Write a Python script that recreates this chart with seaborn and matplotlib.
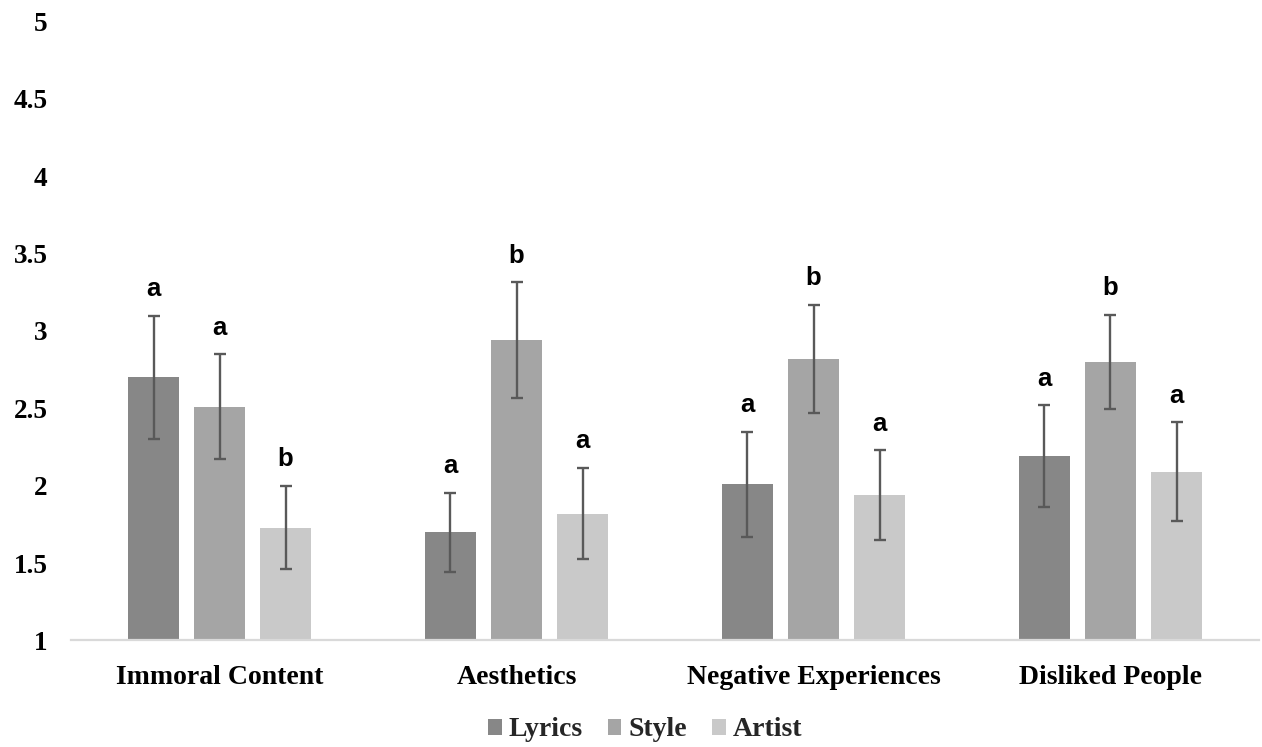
import matplotlib
matplotlib.use("Agg")
import matplotlib.pyplot as plt
import seaborn as sns
import pandas as pd
import numpy as np

categories = ["Immoral Content", "Aesthetics", "Negative Experiences", "Disliked People"]
series = ["Lyrics", "Style", "Artist"]
lyrics = [2.70, 1.70, 2.01, 2.19]
style = [2.51, 2.94, 2.82, 2.80]
artist = [1.73, 1.82, 1.94, 2.09]
lyrics_err = [0.40, 0.255, 0.34, 0.33]
style_err = [0.34, 0.375, 0.35, 0.305]
artist_err = [0.27, 0.295, 0.29, 0.32]
lyrics_sig = ["a", "a", "a", "a"]
style_sig = ["a", "b", "b", "b"]
artist_sig = ["b", "a", "a", "a"]
y_ticks = [1, 1.5, 2, 2.5, 3, 3.5, 4, 4.5, 5]

colors = ["#878787", "#a5a5a5", "#c9c9c9"]

rows = []
for s, vals in zip(series, [lyrics, style, artist]):
    for c, v in zip(categories, vals):
        rows.append({"Category": c, "Series": s, "Value": v})
df = pd.DataFrame(rows)

sns.set_theme(style="white")
plt.rcParams["font.family"] = ["Liberation Serif", "DejaVu Serif"]

fig = plt.figure(figsize=(12.62, 7.47), dpi=100)
ax = fig.add_axes([0.0563, 0.1426, 0.9413, 0.8286])

sns.barplot(data=df, x="Category", y="Value", hue="Series", order=categories,
            hue_order=series, palette=colors, width=0.667, gap=0.225,
            errorbar=None, legend=True, ax=ax, saturation=1, linewidth=0)

errs = [lyrics_err, style_err, artist_err]
sigs = [lyrics_sig, style_sig, artist_sig]
vals_all = [lyrics, style, artist]
for container, err, sig, vals in zip(ax.containers, errs, sigs, vals_all):
    xs = [p.get_x() + p.get_width() / 2 for p in container.patches]
    ax.errorbar(xs, vals, yerr=err, fmt="none", ecolor="#595959",
                elinewidth=1.7, capsize=4.3, capthick=1.7, zorder=3)
    for x, v, e, t in zip(xs, vals, err, sig):
        ax.annotate(t, (x, v + e), xytext=(0, 14), textcoords="offset points",
                    ha="center", va="baseline", fontsize=18.5, fontweight="bold",
                    family=["Liberation Sans", "DejaVu Sans"], color="black")

ax.set_ylim(1, 5)
ax.set_xlim(-0.5, 3.5)
ax.set_yticks(y_ticks)
ax.set_yticklabels([f"{t:g}" for t in y_ticks])
ax.set_xlabel("")
ax.set_ylabel("")
for side in ["top", "right", "left"]:
    ax.spines[side].set_visible(False)
ax.spines["bottom"].set_color("#d9d9d9")
ax.spines["bottom"].set_linewidth(1.6)
ax.tick_params(axis="y", length=0, pad=17, labelsize=19.5)
ax.tick_params(axis="x", length=0, pad=18, labelsize=20)
for lab in ax.get_xticklabels() + ax.get_yticklabels():
    lab.set_fontweight("bold")
    lab.set_color("black")

handles, labels = ax.get_legend_handles_labels()
ax.get_legend().remove()
fig.legend(handles, labels, loc="center", bbox_to_anchor=(645 / 1262, 1 - 730 / 747),
           ncol=3, frameon=False, handlelength=0.5, handleheight=0.5,
           handletextpad=0.25, columnspacing=0.9,
           prop={"family": "Liberation Serif", "weight": "bold", "size": 20})

fig.savefig("out.png", dpi=100)
